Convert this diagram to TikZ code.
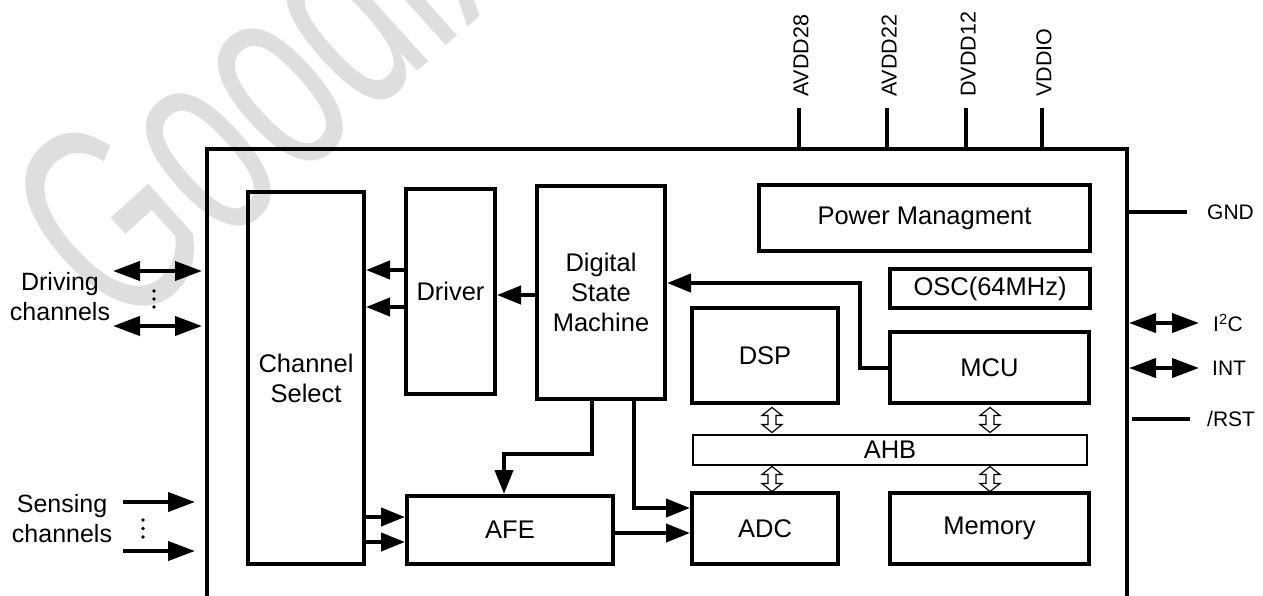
\documentclass[tikz,border=0pt]{standalone}
\usepackage{fontspec}
\setmainfont{Liberation Sans}
\usetikzlibrary{arrows.meta,calc}
\tikzset{
  blk/.style={draw, line width=4pt, align=center, inner sep=0pt, font=\fontsize{25.5}{30}\selectfont},
  arr/.style={line width=4pt, -{Triangle[length=24pt,width=18pt]}},
  ioarr/.style={line width=4pt, -{Triangle[length=27pt,width=19pt]}},
  bidir/.style={line width=4pt, {Triangle[length=27pt,width=19pt]}-{Triangle[length=27pt,width=19pt]}},
  pinlbl/.style={rotate=90, anchor=west, inner sep=0pt, font=\fontsize{21.5}{24}\selectfont},
  sidelbl/.style={anchor=west, inner sep=0pt, font=\fontsize{21}{24}\selectfont},
  chanlbl/.style={align=center, inner sep=0pt, font=\fontsize{25}{30}\selectfont},
  busarrow/.pic={\draw[line width=1.2pt, fill=white] (0,-12.5) -- (10,-4.5) -- (4,-4.5) -- (4,4.5) -- (10,4.5) -- (0,12.5) -- (-10,4.5) -- (-4,4.5) -- (-4,-4.5) -- (-10,-4.5) -- cycle;}
}
\begin{document}
\begin{tikzpicture}[x=1pt, y=-1pt]
  \useasboundingbox (0,0) rectangle (1263,595);
  \clip (0,0) rectangle (1263,595);
  % watermark
  \node[rotate=42, xscale=0.62, anchor=base west, text=black!13, inner sep=0pt, font=\fontsize{280}{280}\selectfont] (wmark) at (122,338) {Goodix};
  % chip outline
  \node[draw, line width=4pt, minimum width=920, minimum height=520] (chip) at (667,409) {};
  % blocks
  \node[blk, minimum width=116, minimum height=372] (chsel) at (306,378) {Channel\\Select};
  \node[blk, minimum width=89, minimum height=205] (driver) at (450.5,291.5) {Driver};
  \node[blk, minimum width=128, minimum height=213] (dsm) at (601,292.5) {Digital\\State\\Machine};
  \node[blk, minimum width=331, minimum height=66] (pm) at (924.5,218) {Power Managment};
  \node[blk, minimum width=200, minimum height=39] (osc) at (990,288.5) {OSC(64MHz)};
  \node[blk, minimum width=146, minimum height=95] (dsp) at (765,355.5) {DSP};
  \node[blk, minimum width=199, minimum height=71] (mcu) at (989.5,367.5) {MCU};
  \node[blk, line width=1.2pt, minimum width=394, minimum height=30] (ahb) at (890,450) {AHB};
  \node[blk, minimum width=146, minimum height=71] (adc) at (765,528.5) {ADC};
  \node[blk, minimum width=199, minimum height=71] (mem) at (989.5,528.5) {Memory};
  \node[blk, minimum width=206, minimum height=68] (afe) at (510,530) {AFE};
  % bus arrows
  \foreach \x in {772,990} {
    \pic at (\x,420) {busarrow};
    \pic at (\x,479) {busarrow};
  }
  % internal connections
  \draw[arr] (dsm.west |- 0,295) -- (driver.east |- 0,295);
  \foreach \y in {270,307} \draw[arr] (driver.west |- 0,\y) -- (chsel.east |- 0,\y);
  \draw[arr] (mcu.west) -| (860,283) -- (dsm.east |- 0,283);
  \draw[arr] (dsm.south -| 592,0) |- (504,454) -- (afe.north -| 504,0);
  \draw[arr] (dsm.south -| 634,0) |- (adc.west |- 0,508);
  \draw[arr] (afe.east |- 0,533) -- (adc.west |- 0,533);
  \foreach \y in {517,542} \draw[arr] (chsel.east |- 0,\y) -- (afe.west |- 0,\y);
  % supply pins
  \foreach \x/\name/\lbl in {799/avdda/AVDD28, 887/avddb/AVDD22, 966/dvdd/DVDD12, 1042/vddio/VDDIO} {
    \coordinate (\name) at (\x,108);
    \draw[line width=4pt] (\name) -- (chip.north -| \name);
    \node[pinlbl] (\name-lbl) at ([shift={(2,-11)}]\name) {\lbl};
  }
  % right side pins
  \coordinate (gndend) at (1187,212);
  \coordinate (i2cend) at (1199,323);
  \coordinate (intend) at (1199,368);
  \coordinate (rstend) at (1190,419);
  \draw[line width=4pt] (chip.east |- gndend) -- (gndend);
  \draw[bidir] (chip.east |- i2cend) -- (i2cend);
  \draw[bidir] (chip.east |- intend) -- (intend);
  \draw[line width=4pt, shorten <=3pt] (chip.east |- rstend) -- (rstend);
  \node[sidelbl] (gnd) at (1207,212) {GND};
  \node[sidelbl] (i2c) at (1213,323) {I\textsuperscript{2}C};
  \node[sidelbl] (int) at (1212,368) {INT};
  \node[sidelbl] (rst) at (1207,419) {/RST};
  % left side channels
  \coordinate (drva) at (113,271);
  \coordinate (drvb) at (113,326);
  \coordinate (sena) at (123,502);
  \coordinate (senb) at (123,551);
  \draw[bidir, shorten >=3pt] (drva) -- (chip.west |- drva);
  \draw[bidir, shorten >=3pt] (drvb) -- (chip.west |- drvb);
  \draw[ioarr, shorten >=10pt] (sena) -- (chip.west |- sena);
  \draw[ioarr, shorten >=10pt] (senb) -- (chip.west |- senb);
  \foreach \y in {291,299,307} \fill (154,\y) circle (1.8pt);
  \foreach \y in {520,528.5,537} \fill (143,\y) circle (1.8pt);
  \node[chanlbl] (drvlbl) at (60,297) {Driving\\channels};
  \node[chanlbl] (senlbl) at (62,519) {Sensing\\channels};
\end{tikzpicture}
\end{document}
